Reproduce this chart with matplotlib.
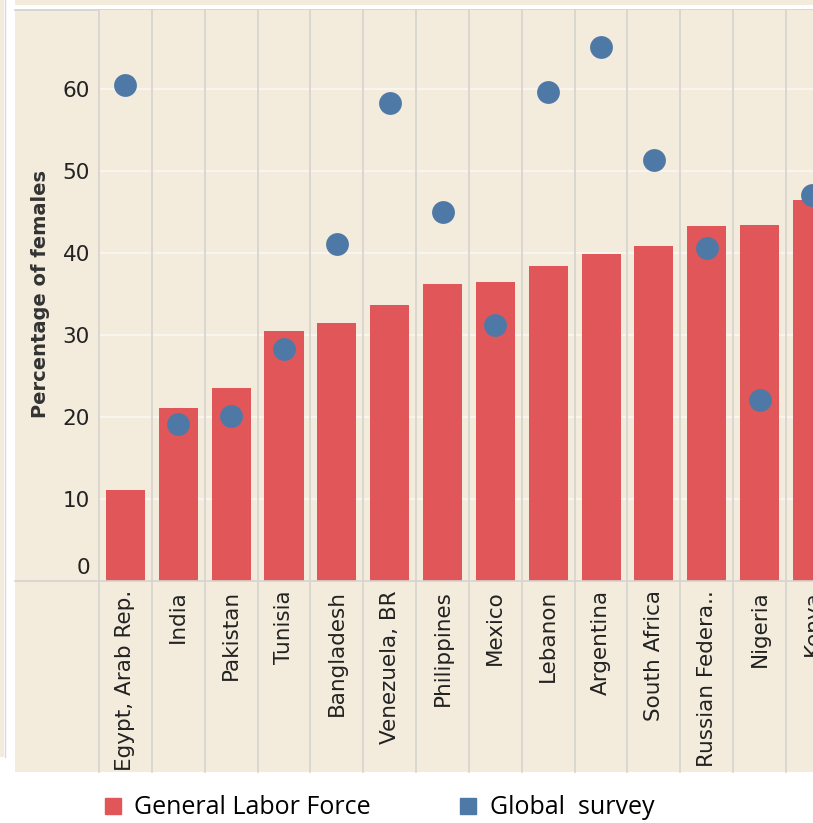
import matplotlib.pyplot as plt
from matplotlib.lines import Line2D
from matplotlib.patches import Rectangle
from matplotlib.transforms import ScaledTranslation

countries = ["Egypt, Arab Rep.", "India", "Pakistan", "Tunisia", "Bangladesh",
             "Venezuela, BR", "Philippines", "Mexico", "Lebanon", "Argentina",
             "South Africa", "Russian Federa..", "Nigeria", "Kenya"]
labor_force = [11.1, 21.1, 23.5, 30.5, 31.4, 33.7, 36.2, 36.4, 38.4, 39.8,
               40.8, 43.3, 43.4, 46.5]
global_survey = [60.5, 19.1, 20.1, 28.3, 41.1, 58.3, 45.0, 31.2, 59.6, 65.1,
                 51.3, 40.6, 22.1, 47.0]
yticks = [0, 10, 20, 30, 40, 50, 60]

RED = "#E15759"
BLUE = "#4E79A7"
BEIGE = "#F3ECDC"
GRID = "#D6D3CE"

W, H = 813, 823
fig = plt.figure(figsize=(W / 100, H / 100), dpi=100)
fig.patch.set_facecolor("white")

def fx(px):
    return px / W

def fy(py):
    return 1 - py / H

# screenshot panels (behind the axes)
fig.patches.append(Rectangle((0, fy(757)), fx(4), fy(0) - fy(757), transform=fig.transFigure,
                             facecolor=BEIGE, edgecolor="none", zorder=-10))
fig.add_artist(Line2D([fx(4.5), fx(4.5)], [fy(757), 1], color="#DADADA", lw=1, zorder=-9))
fig.patches.append(Rectangle((fx(15), fy(5)), 1, fy(0) - fy(5) + 0.01, transform=fig.transFigure,
                             facecolor=BEIGE, edgecolor="none", zorder=-10))
fig.patches.append(Rectangle((fx(15), fy(772)), 1, fy(10) - fy(772), transform=fig.transFigure,
                             facecolor=BEIGE, edgecolor="none", zorder=-10))
fig.add_artist(Line2D([fx(15), 1], [fy(9.5), fy(9.5)], color="#D0D0D0", lw=1.2, zorder=-9))

ax = fig.add_axes([fx(99), fy(581), fx(813) - fx(99), fy(10) - fy(581)])
ax.set_facecolor(BEIGE)
for s in ax.spines.values():
    s.set_visible(False)

x = range(len(countries))
ax.bar(x, labor_force, width=0.74, color=RED, zorder=2)
ax.scatter(x, global_survey, s=270, color=BLUE, zorder=3, linewidths=0)

ax.set_xlim(-0.5, 13.01)
ax.set_ylim(0, 69.6)

# horizontal gridlines
for v in yticks[1:]:
    ax.axhline(v, color="#F8F5EF", lw=1.5, zorder=1)

# column separators running down through the header area
below = (581 - 772) / (581 - 10)
for b in range(len(countries)):
    ax.axvline(b - 0.5, ymin=below, ymax=1, color=GRID, lw=1.2, zorder=1, clip_on=False)

# zero line spanning into the y-axis area
ax.axhline(0, xmin=-(99 - 15) / (813 - 99), xmax=1, color=GRID, lw=1.2, zorder=4, clip_on=False)

ax.set_xticks(list(x))
ax.set_xticklabels(countries, rotation=90, va="top", ha="center", fontsize=15.5, color="#222222")
ax.tick_params(axis="x", length=0, pad=6.5)

ax.set_yticks(yticks)
ax.set_yticklabels([str(v) for v in yticks], fontsize=15.5, color="#222222")
ax.tick_params(axis="y", length=0, pad=6.5)
zero_lab = ax.yaxis.get_major_ticks()[0].label1
zero_lab.set_transform(zero_lab.get_transform() + ScaledTranslation(0, 15 / 100, fig.dpi_scale_trans))

fig.text(fx(41), fy(294), "Percentage of females", rotation=90, ha="center", va="center",
         fontsize=14, fontweight="bold", color="#333333")

handles = [Line2D([], [], marker="s", ls="none", color=RED, markersize=11.5),
           Line2D([], [], marker="s", ls="none", color=BLUE, markersize=11.5)]
fig.legend(handles, ["General Labor Force", "Global  survey"], loc="center left",
           bbox_to_anchor=(fx(101.5), fy(808)), ncol=2, frameon=False,
           borderaxespad=0, borderpad=0, handlelength=0.9, handletextpad=0.4,
           columnspacing=3.46, prop={"family": "Open Sans", "size": 18})

fig.savefig("out.png", dpi=100, facecolor="white")
